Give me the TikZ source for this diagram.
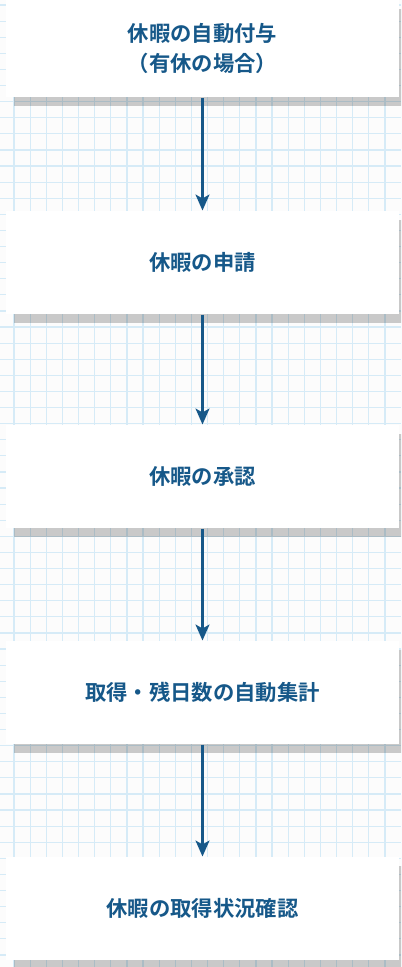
\documentclass[tikz,border=0pt]{standalone}
\usepackage{fontspec}
\newfontfamily\jpfont{Noto Sans CJK JP}[BoldFont={Noto Sans CJK JP Bold}]
\usetikzlibrary{arrows.meta,shadows}
\definecolor{flowblue}{RGB}{22,88,137}
\definecolor{gridblue}{RGB}{214,235,247}
\definecolor{paper}{RGB}{252,252,252}
\tikzset{every picture/.style={line width=0.75pt}}

\begin{document}
\begin{tikzpicture}[x=0.75pt,y=0.75pt,yscale=-1,xscale=1,
  gridline/.style={draw=gridblue, line width=0.9pt},
  stepbox/.style={fill=white, inner sep=0pt, minimum width=294.75pt, minimum height=77.25pt,
    align=center, text=flowblue, font=\jpfont\bfseries\fontsize{16}{22.5}\selectfont,
    drop shadow={shadow xshift=6pt, shadow yshift=-6.75pt, fill=black, opacity=0.2}},
  flowarrow/.style={draw=flowblue, line width=1.6pt, -{Stealth[length=12pt, width=10.5pt, inset=3pt]}}]

\useasboundingbox (0,0) rectangle (401,967);
\clip (0,0) rectangle (401,967);
\fill [paper] (0,0) rectangle (401,967);

% grid paper
\foreach \gx in {0,...,24} \draw [gridline] ({14+16.13*\gx},0) -- ({14+16.13*\gx},967);
\foreach \gy in {0,...,59} \draw [gridline] (0,{5+16.1*\gy}) -- (401,{5+16.1*\gy});

% steps
\node [stepbox, minimum height=72.75pt] (grant) at (202.5,48.5) {休暇の自動付与\\（有休の場合）};
\node [stepbox] (request) at (202.5,262.5) {休暇の申請};
\node [stepbox] (approve) at (202.5,476.5) {休暇の承認};
\node [stepbox] (tally) at (202.5,692.5) {取得・残日数の自動集計};
\node [stepbox] (check) at (202.5,908.5) {休暇の取得状況確認};

% flow
\draw [flowarrow] (grant) -- (request);
\draw [flowarrow] (request) -- (approve);
\draw [flowarrow] (approve) -- (tally);
\draw [flowarrow] (tally) -- (check);

\end{tikzpicture}
\end{document}
